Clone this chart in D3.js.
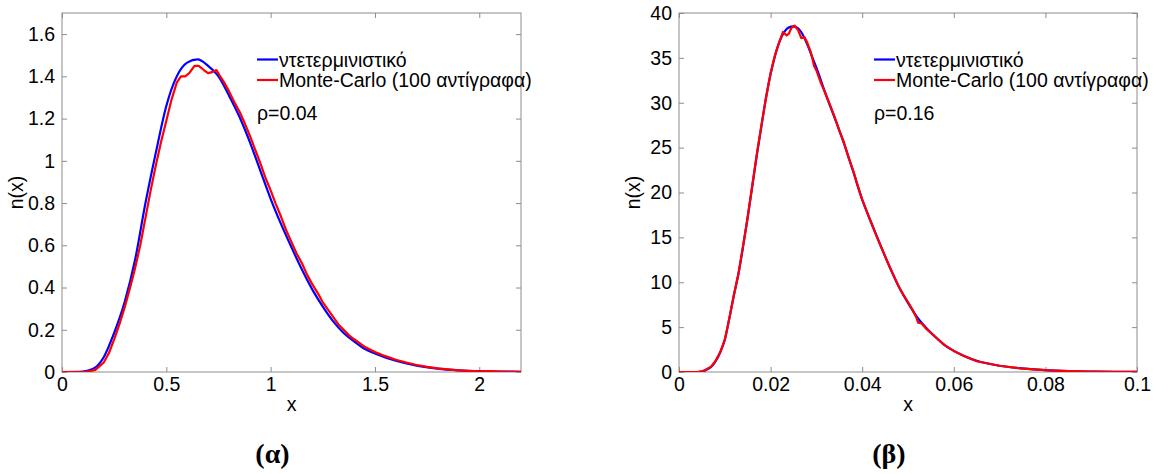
<!DOCTYPE html>
<head>
    <meta charset='utf-8'>
    <title>n(x) deterministic vs Monte-Carlo</title>
    <script src='https://d3js.org/d3.v7.min.js'></script>
</head>
<style>
body {
  margin: 0;
  background: #fff;
  font-family: 'Liberation Sans', Arial, Helvetica, sans-serif;
}
text {
    fill: #000;
}
.axis path, .axis line {
    stroke: #8c8c8c;
}
</style>
<body>
    <svg></svg>
</body>

<script>
    // ---- data ----
    // panel (α), rho = 0.04
    var detAX = [0, 0.1, 0.15, 0.2, 0.25, 0.3, 0.35, 0.4, 0.45, 0.5, 0.55, 0.6, 0.65, 0.7, 0.75, 0.8, 0.85, 0.9, 0.95, 1.0,
                 1.05, 1.1, 1.15, 1.2, 1.25, 1.3, 1.35, 1.4, 1.45, 1.5, 1.6, 1.7, 1.8, 1.9, 2.0, 2.1, 2.2];
    var detAY = [0, 0.002, 0.015, 0.07, 0.185, 0.33, 0.53, 0.8, 1.04, 1.26, 1.40, 1.465, 1.48, 1.45, 1.40, 1.31, 1.21, 1.09, 0.955, 0.82,
                 0.70, 0.59, 0.485, 0.39, 0.31, 0.24, 0.185, 0.145, 0.11, 0.088, 0.053, 0.03, 0.016, 0.008, 0.004, 0.002, 0.001];
    var mcAX = [0, 0.1, 0.13, 0.16, 0.2, 0.225, 0.25, 0.275, 0.3, 0.325, 0.35, 0.375, 0.4, 0.425, 0.45, 0.475, 0.5, 0.525, 0.55, 0.57,
                0.59, 0.61, 0.635, 0.655, 0.68, 0.70, 0.72, 0.74, 0.755, 0.775, 0.8, 0.825, 0.85, 0.875, 0.9, 0.925, 0.95, 0.975, 1.0,
                1.025, 1.05, 1.075, 1.1, 1.125, 1.15, 1.175, 1.2, 1.225, 1.25, 1.275, 1.3, 1.325, 1.35, 1.375, 1.4, 1.45, 1.5, 1.55,
                1.6, 1.65, 1.7, 1.75, 1.8, 1.85, 1.9, 1.95, 2.0, 2.05, 2.1, 2.15, 2.2];
    var mcAY = [0, 0, 0.003, 0.01, 0.045, 0.09, 0.155, 0.225, 0.305, 0.395, 0.49, 0.6, 0.73, 0.86, 0.98, 1.09, 1.19, 1.29, 1.37, 1.40,
                1.40, 1.415, 1.45, 1.45, 1.43, 1.415, 1.42, 1.43, 1.405, 1.375, 1.33, 1.28, 1.235, 1.18, 1.12, 1.055, 0.99, 0.92, 0.86,
                0.795, 0.735, 0.67, 0.615, 0.56, 0.515, 0.46, 0.415, 0.375, 0.33, 0.295, 0.26, 0.225, 0.2, 0.175, 0.155, 0.12, 0.095, 0.075,
                0.058, 0.045, 0.033, 0.024, 0.017, 0.012, 0.008, 0.005, 0.003, 0.004, 0.002, 0.001, 0.001];
    var xTicksA = [0, 0.5, 1, 1.5, 2];
    var yTicksA = [0, 0.2, 0.4, 0.6, 0.8, 1, 1.2, 1.4, 1.6];

    // panel (β), rho = 0.16
    var detBX = [0, 0.004, 0.005, 0.006, 0.007, 0.008, 0.009, 0.010, 0.011, 0.012, 0.013, 0.014, 0.015, 0.016, 0.017, 0.018, 0.019,
                 0.020, 0.021, 0.022, 0.023, 0.024, 0.025, 0.026, 0.027, 0.028, 0.029, 0.030, 0.032, 0.034, 0.036, 0.038, 0.040,
                 0.042, 0.044, 0.046, 0.048, 0.050, 0.052, 0.054, 0.056, 0.058, 0.060, 0.062, 0.065, 0.07, 0.075, 0.08, 0.085,
                 0.09, 0.095, 0.1];
    var detBY = [0, 0, 0.05, 0.25, 0.55, 1.2, 2.2, 3.6, 6.0, 8.6, 11.0, 14.0, 17.3, 20.7, 24.2, 27.4, 30.6,
                 33.2, 35.3, 36.9, 37.9, 38.4, 38.5, 38.3, 37.6, 36.5, 35.2, 33.9, 31.0, 28.3, 25.5, 22.4, 19.2,
                 16.6, 14.1, 11.7, 9.5, 7.7, 6.1, 4.9, 3.9, 3.0, 2.35, 1.85, 1.25, 0.7, 0.4, 0.2, 0.1,
                 0.05, 0.02, 0.01];
    var mcBX = [0, 0.004, 0.005, 0.006, 0.007, 0.008, 0.009, 0.010, 0.011, 0.012, 0.013, 0.014, 0.015, 0.016, 0.017, 0.018, 0.019,
                0.020, 0.021, 0.022, 0.0227, 0.0235, 0.024, 0.0245, 0.0252, 0.026, 0.0267, 0.0274, 0.028, 0.0288, 0.0295, 0.030,
                0.031, 0.032, 0.033, 0.034, 0.035, 0.036, 0.037, 0.038, 0.039, 0.040, 0.041, 0.042, 0.043, 0.044, 0.045, 0.046,
                0.047, 0.048, 0.049, 0.050, 0.051, 0.0518, 0.0522, 0.053, 0.054, 0.056, 0.058, 0.060, 0.062, 0.065, 0.07, 0.075,
                0.08, 0.085, 0.09, 0.095, 0.1];
    var mcBY = [0, 0, 0.06, 0.3, 0.6, 1.25, 2.2, 3.6, 6.0, 8.6, 11.0, 14.1, 17.2, 20.8, 24.3, 27.5, 30.5,
                33.3, 35.4, 36.9, 37.9, 37.5, 37.7, 38.3, 38.6, 38.1, 37.2, 37.3, 36.7, 35.6, 34.1, 33.6,
                32.2, 31.0, 29.7, 28.4, 26.9, 25.6, 23.9, 22.5, 20.8, 19.2, 17.9, 16.6, 15.3, 14.1, 12.9, 11.7,
                10.6, 9.5, 8.6, 7.8, 6.9, 6.1, 5.5, 5.4, 4.8, 3.9, 3.0, 2.35, 1.85, 1.2, 0.7, 0.38,
                0.2, 0.1, 0.04, 0.03, 0.01];
    var xTicksB = [0, 0.02, 0.04, 0.06, 0.08, 0.1];
    var yTicksB = [0, 5, 10, 15, 20, 25, 30, 35, 40];

    var seriesNames = ['ντετερμινιστικό', 'Monte-Carlo (100 αντίγραφα)'];
    var seriesColors = ['#0000ff', '#ff0000'];

    var vWidth = 1158;
    var vHeight = 474;
    var vFont = 19.5;

    var svg = d3.select('svg')
        .attr('width', vWidth)
        .attr('height', vHeight);

    drawPanel({
        id: 'a', left: 62, top: 13, width: 459, height: 359,
        xDomain: [0, 2.2], yDomain: [0, 1.7],
        xTicks: xTicksA, yTicks: yTicksA,
        det: zip(detAX, detAY), mc: zip(mcAX, mcAY),
        rho: 'ρ=0.04', tag: '(α)'
    });
    drawPanel({
        id: 'b', left: 679, top: 13, width: 458, height: 359,
        xDomain: [0, 0.1], yDomain: [0, 40],
        xTicks: xTicksB, yTicks: yTicksB,
        det: zip(detBX, detBY), mc: zip(mcBX, mcBY),
        rho: 'ρ=0.16', tag: '(β)'
    });

    function zip(xs, ys) {
        return xs.map(function (x, i) { return [x, ys[i]]; });
    }

    /**
     * One MATLAB-style panel: boxed axes, inward ticks, two lines, legend
     */
    function drawPanel(p) {
        var x = d3.scaleLinear().domain(p.xDomain).range([0, p.width]);
        var y = d3.scaleLinear().domain(p.yDomain).range([p.height, 0]);
        var fmt = function (d) { return String(+d.toFixed(3)); };

        var g = svg.append('g')
            .attr('transform', 'translate(' + p.left + ',' + p.top + ')');

        svg.append('defs').append('clipPath').attr('id', 'clip-' + p.id)
            .append('rect').attr('width', p.width).attr('height', p.height);

        // axes: bottom/left labelled, top/right ticks only
        var bottom = g.append('g').attr('class', 'axis')
            .attr('transform', 'translate(0,' + p.height + ')')
            .call(d3.axisBottom(x).tickValues(p.xTicks).tickSize(-5).tickPadding(5).tickFormat(fmt));
        var left = g.append('g').attr('class', 'axis')
            .call(d3.axisLeft(y).tickValues(p.yTicks).tickSize(-5).tickPadding(7).tickFormat(fmt));
        g.append('g').attr('class', 'axis')
            .call(d3.axisTop(x).tickValues(p.xTicks).tickSize(-5).tickFormat(''));
        g.append('g').attr('class', 'axis')
            .attr('transform', 'translate(' + p.width + ',0)')
            .call(d3.axisRight(y).tickValues(p.yTicks).tickSize(-5).tickFormat(''));
        g.selectAll('.axis path').attr('d', null);
        g.append('rect')
            .attr('width', p.width).attr('height', p.height)
            .attr('fill', 'none').attr('stroke', '#8c8c8c').attr('stroke-width', 1);

        g.selectAll('.axis text')
            .attr('font-size', vFont)
            .attr('font-family', 'Liberation Sans, Arial, sans-serif')
            .attr('fill', '#000');

        // lines
        var line = d3.line()
            .x(function (d) { return x(d[0]); })
            .y(function (d) { return y(d[1]); });
        var plot = g.append('g').attr('clip-path', 'url(#clip-' + p.id + ')');
        plot.append('path').datum(p.det)
            .attr('d', line.curve(d3.curveMonotoneX))
            .attr('fill', 'none').attr('stroke', seriesColors[0]).attr('stroke-width', 2.2);
        plot.append('path').datum(p.mc)
            .attr('d', line.curve(d3.curveLinear))
            .attr('fill', 'none').attr('stroke', seriesColors[1]).attr('stroke-width', 2.2)
            .attr('stroke-linejoin', 'round');

        // axis titles
        g.append('text')
            .attr('x', p.width / 2).attr('y', p.height + 39)
            .attr('text-anchor', 'middle').attr('font-size', vFont)
            .text('x');
        g.append('text')
            .attr('transform', 'translate(' + -39 + ',' + (p.height / 2) + ')rotate(-90)')
            .attr('text-anchor', 'middle').attr('font-size', vFont)
            .text('n(x)');

        // legend
        var lg = g.append('g').attr('transform', 'translate(195,0)');
        seriesNames.forEach(function (name, i) {
            var yy = 46.5 + i * 20.5;
            lg.append('line')
                .attr('x1', 0).attr('x2', 21).attr('y1', yy).attr('y2', yy)
                .attr('stroke', seriesColors[i]).attr('stroke-width', 2.2);
            lg.append('text')
                .attr('x', 22).attr('y', yy + 7)
                .attr('font-size', vFont)
                .text(name);
        });
        lg.append('text')
            .attr('x', 0).attr('y', 107)
            .attr('font-size', vFont)
            .text(p.rho);

        // panel tag under the plot
        g.append('text')
            .attr('x', p.width / 2 - 19).attr('y', 450)
            .attr('text-anchor', 'middle')
            .attr('font-family', 'Liberation Serif, Times New Roman, serif')
            .attr('font-weight', 'bold').attr('font-size', 28)
            .text(p.tag);
    }
</script>
